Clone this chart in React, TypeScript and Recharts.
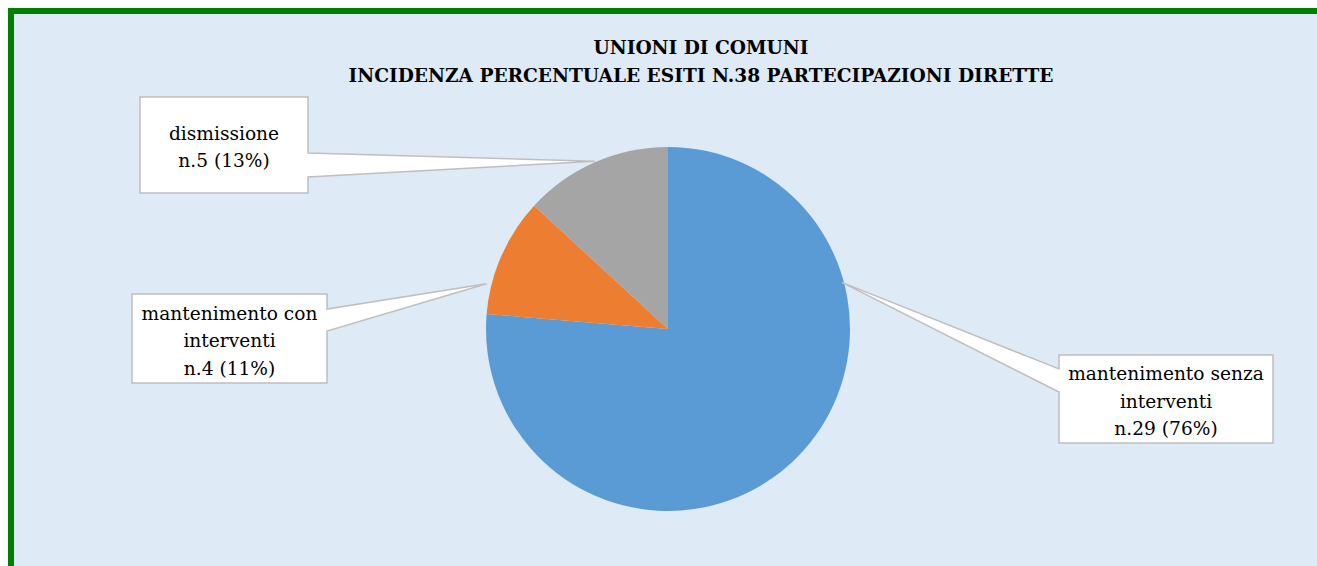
import React from 'react';
import { PieChart, Pie, Cell } from 'recharts';

const categories = ['mantenimento senza interventi', 'mantenimento con interventi', 'dismissione'];
const labelLines = [['mantenimento senza', 'interventi'], ['mantenimento con', 'interventi'], ['dismissione']];
const counts = [29, 4, 5];
const colors = ['#5B9BD5', '#ED7D31', '#A5A5A5'];
const titleLines = ['UNIONI DI COMUNI', 'INCIDENZA PERCENTUALE ESITI N.38 PARTECIPAZIONI DIRETTE'];

const total = counts.reduce((a, b) => a + b, 0);
const data = categories.map((name, i) => ({ name, value: counts[i] }));

// callout boxes (chart coords), side where the pointer leaves, pointer base, anchor angle clockwise from 12 o'clock
const callouts = [
  { x0: 1045, y0: 341, x1: 1259, y1: 429, side: 'left', w1: 355, w2: 378, angle: 75, dr: -2 },
  { x0: 118, y0: 280, x1: 313, y1: 369, side: 'right', w1: 295, w2: 317, angle: 284, dr: 5 },
  { x0: 126, y0: 83, x1: 294, y1: 179, side: 'right', w1: 139, w2: 163, angle: 336.4, dr: 1 },
];

const FONT = '"DejaVu Serif", serif';

const renderCallout = (props: any) => {
  const { cx, cy, outerRadius, index } = props;
  const c = callouts[index];
  const rad = (c.angle * Math.PI) / 180;
  const r = outerRadius + c.dr;
  const ax = cx + r * Math.sin(rad);
  const ay = cy - r * Math.cos(rad);
  const d =
    c.side === 'right'
      ? `M${c.x0},${c.y0} H${c.x1} V${c.w1} L${ax},${ay} L${c.x1},${c.w2} V${c.y1} H${c.x0} Z`
      : `M${c.x0},${c.y0} H${c.x1} V${c.y1} H${c.x0} V${c.w2} L${ax},${ay} L${c.x0},${c.w1} Z`;
  const pct = Math.round((counts[index] / total) * 100);
  const lines = [...labelLines[index], `n.${counts[index]} (${pct}%)`];
  const lh = 27.5;
  const mx = (c.x0 + c.x1) / 2;
  const my = (c.y0 + c.y1) / 2 + 2;
  const startY = my - ((lines.length - 1) * lh) / 2;
  return (
    <g key={`callout-${index}`}>
      <path d={d} fill="#FFFFFF" stroke="#BFBFBF" strokeWidth={1.5} />
      {lines.map((t, i) => (
        <text
          key={i}
          x={mx}
          y={startY + i * lh}
          textAnchor="middle"
          dominantBaseline="central"
          fontFamily={FONT}
          fontSize={18.6}
          fill="#000000"
        >
          {t}
        </text>
      ))}
    </g>
  );
};

export default function App() {
  return (
    <div
      style={{
        position: 'fixed',
        left: 8,
        top: 8,
        width: 1309,
        height: 558,
        overflow: 'hidden',
        borderLeft: '6px solid #008000',
        borderTop: '6px solid #008000',
        background: '#DEEAF6',
        boxSizing: 'border-box',
      }}
    >
      <div
        style={{
          position: 'absolute',
          left: 687,
          top: 20,
          transform: 'translateX(-50%)',
          whiteSpace: 'nowrap',
          textAlign: 'center',
          fontFamily: FONT,
          fontWeight: 'bold',
          fontSize: 18.6,
          lineHeight: '28px',
          color: '#000000',
        }}
      >
        {titleLines.map((t) => (
          <div key={t}>{t}</div>
        ))}
      </div>
      <PieChart
        width={1303}
        height={552}
        margin={{ top: 0, right: 0, bottom: 0, left: 0 }}
        style={{ position: 'absolute', left: 0, top: 0 }}
      >
        <Pie
          data={data}
          dataKey="value"
          nameKey="name"
          cx={654}
          cy={315}
          outerRadius={182}
          startAngle={90}
          endAngle={-270}
          stroke="none"
          label={renderCallout}
          labelLine={false}
          isAnimationActive={false}
        >
          {data.map((d, i) => (
            <Cell key={d.name} fill={colors[i]} />
          ))}
        </Pie>
      </PieChart>
    </div>
  );
}
